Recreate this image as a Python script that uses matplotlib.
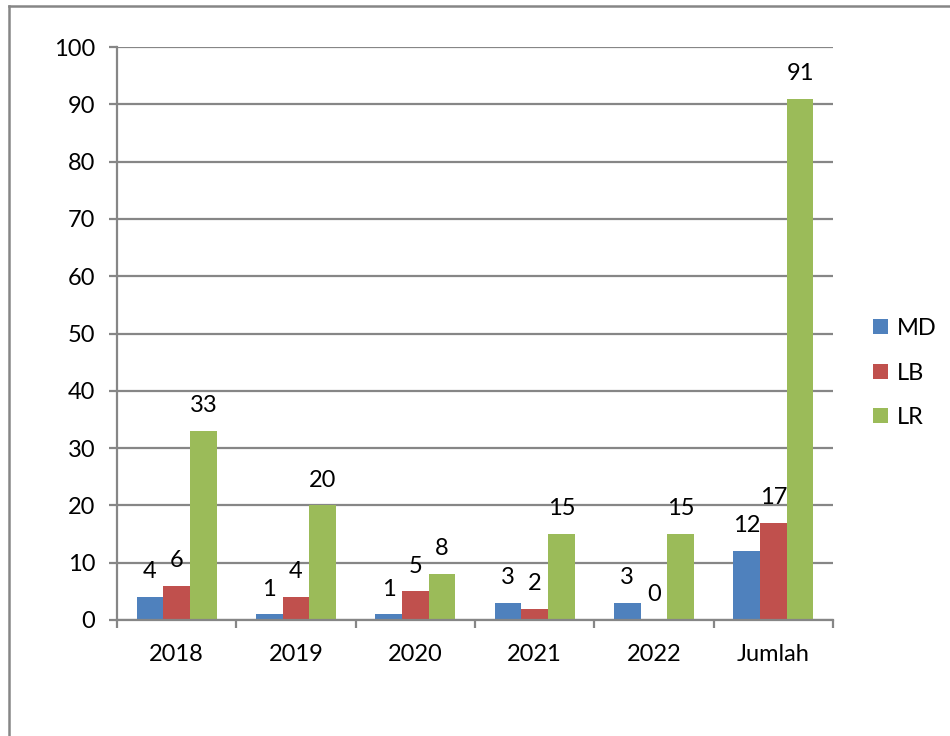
import matplotlib.pyplot as plt
from matplotlib.lines import Line2D
import numpy as np

categories = ["2018", "2019", "2020", "2021", "2022", "Jumlah"]
md = [4, 1, 1, 3, 3, 12]
lb = [6, 4, 5, 2, 0, 17]
lr = [33, 20, 8, 15, 15, 91]

series = [("MD", md, "#4F81BD"), ("LB", lb, "#C0504D"), ("LR", lr, "#9BBB59")]

plt.rcParams["font.family"] = ["Lato", "DejaVu Sans"]
grid_col = "#868686"
fs = 17

fig = plt.figure(figsize=(9.5, 7.36), dpi=100)
ax = fig.add_axes([117 / 950, 1 - 620 / 736, (833 - 117) / 950, (620 - 47) / 736])

x = np.arange(len(categories))
w = 0.224
for k, (name, vals, col) in enumerate(series):
    bars = ax.bar(x + (k - 1) * w, vals, w, color=col, label=name, zorder=3)
    for b, v in zip(bars, vals):
        ax.annotate(str(v), (b.get_x() + b.get_width() / 2, b.get_height()),
                    xytext=(0, 13.5), textcoords="offset points",
                    ha="center", va="baseline", fontsize=fs, zorder=4)

ax.set_xlim(-0.5, len(categories) - 0.5)
ax.set_ylim(0, 100)
ax.set_yticks(range(0, 101, 10))
ax.yaxis.grid(True, color=grid_col, linewidth=1.6, zorder=0)

# category labels in the middle, tick marks at the boundaries
ax.set_xticks(x)
ax.set_xticklabels(categories)
ax.set_xticks(np.arange(-0.5, len(categories)), minor=True)
ax.tick_params(axis="x", which="major", length=0, pad=17, labelsize=fs)
ax.tick_params(axis="x", which="minor", length=8 * 0.72, width=1.6, color=grid_col)
ax.tick_params(axis="y", length=8 * 0.72, width=1.6, color=grid_col, pad=10, labelsize=fs)

for side in ["top", "right"]:
    ax.spines[side].set_visible(False)
for side in ["left", "bottom"]:
    ax.spines[side].set_color(grid_col)
    ax.spines[side].set_linewidth(1.6)
    ax.spines[side].set_zorder(5)

fig.legend(loc="center left", bbox_to_anchor=(873 / 950, 1 - 373 / 736),
           frameon=False, fontsize=fs, borderpad=0, borderaxespad=0,
           handlelength=0.62, handleheight=0.62, handletextpad=0.4,
           labelspacing=1.0)

# outer chart frame (top and left edges visible)
fig.add_artist(Line2D([9 / 950, 1], [1 - 6 / 736, 1 - 6 / 736], color=grid_col, lw=1.8))
fig.add_artist(Line2D([9 / 950, 9 / 950], [0, 1 - 6 / 736], color=grid_col, lw=1.8))

fig.savefig("out.png", dpi=100)
